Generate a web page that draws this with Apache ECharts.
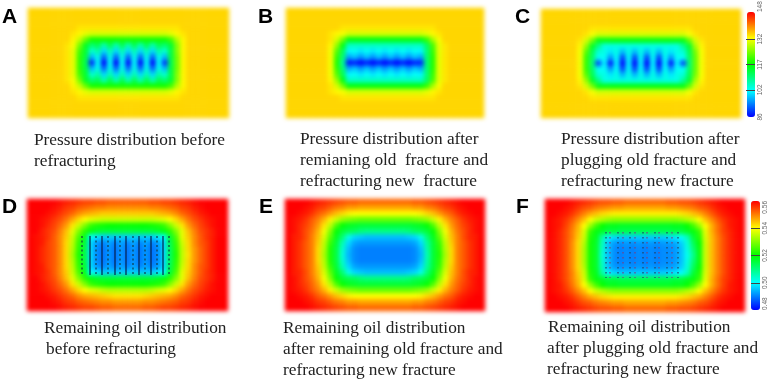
<!DOCTYPE html>
<html><head><meta charset="utf-8">
<style>
html,body{margin:0;padding:0;background:#fff;width:768px;height:382px;overflow:hidden}
#heat,#front{position:absolute;left:0;top:0;width:768px;height:382px}
#heat{filter:blur(2px)}
</style>
<script src="https://cdn.jsdelivr.net/npm/echarts@6/dist/echarts.min.js"></script>
</head><body>
<div id="heat"></div><div id="front"></div>
<script>
// Pressure fields (rows top to bottom, 33 columns)
const pressureA = [
[135,135,135,135,135,135,135,135,135,135,135,135,135,135,135,135,135,135,135,135,135,135,135,135,135,135,135,135,135,135,135,135,135],
[135,135,135,135,135,135,135,135,135,135,135,135,135,135,135,135,135,135,135,135,135,135,135,135,135,135,135,135,135,135,135,135,135],
[135,135,135,135,135,135,135,135,135,135,135,135,135,135,135,135,135,135,135,135,135,135,135,135,135,135,135,135,135,135,135,135,135],
[135,135,135,135,135,135,135,135,134,134,134,134,134,134,134,134,134,134,134,134,134,134,134,134,134,135,135,135,135,135,135,135,135],
[135,135,135,135,135,135,135,134,133,131,130,130,130,130,130,130,130,130,130,130,130,130,130,131,133,134,135,135,135,135,135,135,135],
[135,135,135,135,135,135,135,133,129,123,118,118,118,118,118,118,118,118,118,118,118,118,118,121,128,133,135,135,135,135,135,135,135],
[135,135,135,135,135,135,134,132,124,115,110,112,106,112,106,112,106,112,106,112,106,112,110,114,125,133,135,135,135,135,135,135,135],
[135,135,135,135,135,135,134,131,121,114,104,107,99,106,99,106,99,106,99,106,99,107,104,113,125,133,135,135,135,135,135,135,135],
[135,135,135,135,135,135,134,131,120,113,97,103,92,103,92,103,92,103,92,103,92,103,97,113,124,133,135,135,135,135,135,135,135],
[135,135,135,135,135,135,134,131,120,112,88,102,84,102,84,102,84,102,84,102,84,102,89,112,124,133,135,135,135,135,135,135,135],
[135,135,135,135,135,135,134,131,120,113,97,103,92,103,92,103,92,103,92,103,92,103,97,113,124,133,135,135,135,135,135,135,135],
[135,135,135,135,135,135,134,131,121,114,104,107,99,106,99,106,99,106,99,106,99,107,104,113,125,133,135,135,135,135,135,135,135],
[135,135,135,135,135,135,134,132,124,115,110,112,106,112,106,112,106,112,106,112,106,112,110,114,125,133,135,135,135,135,135,135,135],
[135,135,135,135,135,135,135,133,129,123,118,118,118,118,118,118,118,118,118,118,118,118,118,121,128,133,135,135,135,135,135,135,135],
[135,135,135,135,135,135,135,134,133,131,130,130,130,130,130,130,130,130,130,130,130,130,130,131,133,134,135,135,135,135,135,135,135],
[135,135,135,135,135,135,135,135,134,134,134,134,134,134,134,134,134,134,134,134,134,134,134,134,134,135,135,135,135,135,135,135,135],
[135,135,135,135,135,135,135,135,135,135,135,135,135,135,135,135,135,135,135,135,135,135,135,135,135,135,135,135,135,135,135,135,135],
[135,135,135,135,135,135,135,135,135,135,135,135,135,135,135,135,135,135,135,135,135,135,135,135,135,135,135,135,135,135,135,135,135],
[135,135,135,135,135,135,135,135,135,135,135,135,135,135,135,135,135,135,135,135,135,135,135,135,135,135,135,135,135,135,135,135,135]
];
const pressureB = [
[135,135,135,135,135,135,135,135,135,135,135,135,135,135,135,135,135,135,135,135,135,135,135,135,135,135,135,135,135,135,135,135,135],
[135,135,135,135,135,135,135,135,135,135,135,135,135,135,135,135,135,135,135,135,135,135,135,135,135,135,135,135,135,135,135,135,135],
[135,135,135,135,135,135,135,135,135,135,135,135,135,135,135,135,135,135,135,135,135,135,135,135,135,135,135,135,135,135,135,135,135],
[135,135,135,135,135,135,135,135,135,134,134,134,134,134,134,134,134,134,134,134,134,134,134,134,134,135,135,135,135,135,135,135,135],
[135,135,135,135,135,135,135,134,133,132,130,130,130,130,130,130,130,130,130,130,130,130,130,131,133,134,135,135,135,135,135,135,135],
[135,135,135,135,135,135,135,134,130,124,116,116,116,116,116,116,116,116,116,116,116,116,116,120,127,132,135,135,135,135,135,135,135],
[135,135,135,135,135,135,135,133,126,116,105,105,105,105,105,105,105,105,105,105,105,105,105,111,121,131,134,135,135,135,135,135,135],
[135,135,135,135,135,135,135,132,122,112,101,102,100,102,100,102,100,102,100,102,100,102,101,110,120,131,134,135,135,135,135,135,135],
[135,135,135,135,135,135,135,132,120,110,96,98,95,98,95,98,95,98,95,98,95,98,96,110,119,131,134,135,135,135,135,135,135],
[135,135,135,135,135,135,135,132,119,108,87,88,85,88,85,88,85,88,85,88,85,88,88,110,119,131,134,135,135,135,135,135,135],
[135,135,135,135,135,135,135,132,120,110,96,98,95,98,95,98,95,98,95,98,95,98,96,110,119,131,134,135,135,135,135,135,135],
[135,135,135,135,135,135,135,132,122,112,101,102,100,102,100,102,100,102,100,102,100,102,101,110,120,131,134,135,135,135,135,135,135],
[135,135,135,135,135,135,135,133,126,116,105,105,105,105,105,105,105,105,105,105,105,105,105,111,121,131,134,135,135,135,135,135,135],
[135,135,135,135,135,135,135,134,130,124,116,116,116,116,116,116,116,116,116,116,116,116,116,120,127,132,135,135,135,135,135,135,135],
[135,135,135,135,135,135,135,134,133,132,130,130,130,130,130,130,130,130,130,130,130,130,130,131,133,134,135,135,135,135,135,135,135],
[135,135,135,135,135,135,135,135,135,134,134,134,134,134,134,134,134,134,134,134,134,134,134,134,134,135,135,135,135,135,135,135,135],
[135,135,135,135,135,135,135,135,135,135,135,135,135,135,135,135,135,135,135,135,135,135,135,135,135,135,135,135,135,135,135,135,135],
[135,135,135,135,135,135,135,135,135,135,135,135,135,135,135,135,135,135,135,135,135,135,135,135,135,135,135,135,135,135,135,135,135],
[135,135,135,135,135,135,135,135,135,135,135,135,135,135,135,135,135,135,135,135,135,135,135,135,135,135,135,135,135,135,135,135,135]
];
const pressureC = [
[135,135,135,135,135,135,135,135,135,135,135,135,135,135,135,135,135,135,135,135,135,135,135,135,135,135,135,135,135,135,135,135,135],
[135,135,135,135,135,135,135,135,135,135,135,135,135,135,135,135,135,135,135,135,135,135,135,135,135,135,135,135,135,135,135,135,135],
[135,135,135,135,135,135,135,135,135,135,135,135,135,135,135,135,135,135,135,135,135,135,135,135,135,135,135,135,135,135,135,135,135],
[135,135,135,135,135,135,135,135,134,134,134,134,134,134,134,134,134,134,134,134,134,134,134,134,134,135,135,135,135,135,135,135,135],
[135,135,135,135,135,135,135,134,132,130,130,130,130,130,130,130,130,130,130,130,130,130,130,130,132,134,135,135,135,135,135,135,135],
[135,135,135,135,135,135,134,130,124,116,116,116,116,116,116,116,116,116,116,116,116,116,116,116,123,130,134,135,135,135,135,135,135],
[135,135,135,135,135,135,133,126,115,109,103,103,103,103,103,103,103,103,103,103,103,103,103,108,114,127,133,135,135,135,135,135,135],
[135,135,135,135,135,135,132,122,112,104,103,100,103,97,103,97,103,97,103,97,103,100,103,104,112,124,132,135,135,135,135,135,135],
[135,135,135,135,135,135,132,120,111,102,102,95,102,90,102,90,102,90,102,90,102,95,102,102,111,123,132,135,135,135,135,135,135],
[135,135,135,135,135,135,132,120,110,90,101,87,101,83,101,83,101,83,101,83,101,87,101,90,110,123,132,135,135,135,135,135,135],
[135,135,135,135,135,135,132,120,111,102,102,95,102,90,102,90,102,90,102,90,102,95,102,102,111,123,132,135,135,135,135,135,135],
[135,135,135,135,135,135,132,122,112,104,103,100,103,97,103,97,103,97,103,97,103,100,103,104,112,124,132,135,135,135,135,135,135],
[135,135,135,135,135,135,133,126,115,109,103,103,103,103,103,103,103,103,103,103,103,103,103,108,114,127,133,135,135,135,135,135,135],
[135,135,135,135,135,135,134,130,124,116,116,116,116,116,116,116,116,116,116,116,116,116,116,116,123,130,134,135,135,135,135,135,135],
[135,135,135,135,135,135,135,134,132,130,130,130,130,130,130,130,130,130,130,130,130,130,130,130,132,134,135,135,135,135,135,135,135],
[135,135,135,135,135,135,135,135,134,134,134,134,134,134,134,134,134,134,134,134,134,134,134,134,134,135,135,135,135,135,135,135,135],
[135,135,135,135,135,135,135,135,135,135,135,135,135,135,135,135,135,135,135,135,135,135,135,135,135,135,135,135,135,135,135,135,135],
[135,135,135,135,135,135,135,135,135,135,135,135,135,135,135,135,135,135,135,135,135,135,135,135,135,135,135,135,135,135,135,135,135],
[135,135,135,135,135,135,135,135,135,135,135,135,135,135,135,135,135,135,135,135,135,135,135,135,135,135,135,135,135,135,135,135,135]
];
// Remaining oil fields, in thousandths of saturation
const oilD = [
[560,560,560,560,560,559,558,557,556,555,555,554,554,553,553,553,553,553,553,553,554,554,555,555,556,557,558,559,560,560,560,560,560],
[560,560,560,560,559,558,556,555,553,552,551,550,550,549,549,549,549,549,549,549,550,550,551,552,553,555,556,558,559,560,560,560,560],
[560,560,560,559,558,556,554,552,549,547,546,545,544,544,544,544,544,544,544,544,544,545,546,547,549,552,554,556,558,559,560,560,560],
[560,560,559,558,556,554,551,547,543,540,538,537,536,536,536,536,536,536,536,536,536,537,538,540,543,547,551,554,556,558,559,560,560],
[560,560,559,557,555,552,548,542,536,530,524,522,521,520,520,520,520,520,520,520,521,522,524,530,536,542,548,552,555,557,559,560,560],
[560,560,558,556,554,550,545,538,530,523,519,517,516,516,516,516,516,516,516,516,516,517,519,523,530,538,545,550,554,556,558,560,560],
[560,559,558,556,553,549,544,536,526,518,500,498,496,496,496,496,496,496,496,496,496,498,500,516,526,538,544,549,553,556,558,560,560],
[560,559,558,555,553,549,543,535,524,516,497,492,490,493,490,493,490,493,490,493,490,492,497,514,524,536,543,549,553,555,558,560,560],
[560,559,557,555,553,549,543,534,523,515,497,491,489,492,489,492,489,492,489,492,489,491,497,513,523,535,543,548,552,555,558,560,560],
[560,559,557,555,553,549,543,533,522,515,497,491,489,492,489,492,489,492,489,492,489,491,497,513,522,535,542,548,552,555,558,560,560],
[560,559,557,555,553,549,543,534,523,515,497,491,489,492,489,492,489,492,489,492,489,491,497,513,523,535,543,548,552,555,558,560,560],
[560,559,558,555,553,549,543,535,524,516,497,492,490,493,490,493,490,493,490,493,490,492,497,514,524,536,543,549,553,555,558,560,560],
[560,559,558,556,553,549,544,536,526,518,500,498,496,496,496,496,496,496,496,496,496,498,500,516,526,538,544,549,553,556,558,560,560],
[560,560,558,556,554,550,545,538,530,523,519,517,516,516,516,516,516,516,516,516,516,517,519,523,530,538,545,550,554,556,558,560,560],
[560,560,559,557,555,552,548,542,536,530,524,522,521,520,520,520,520,520,520,520,521,522,524,530,536,542,548,552,555,557,559,560,560],
[560,560,559,558,556,554,551,547,543,540,538,537,535,534,534,534,534,534,534,534,535,537,538,540,543,547,551,554,556,558,559,560,560],
[560,560,560,559,558,556,554,552,549,547,546,545,544,543,542,542,542,542,542,543,544,545,546,547,549,552,554,556,558,559,560,560,560],
[560,560,560,560,559,558,556,555,553,552,551,550,549,549,548,548,548,548,548,549,549,550,551,552,553,555,556,558,559,560,560,560,560],
[560,560,560,560,560,559,558,557,556,555,555,554,553,553,552,552,552,552,552,553,553,554,555,555,556,557,558,559,560,560,560,560,560]
];
const oilE = [
[560,560,560,560,559,558,557,556,555,554,553,553,552,552,552,552,552,552,552,552,552,553,553,554,555,556,557,558,559,560,560,560,560],
[560,560,560,559,558,556,555,553,551,550,548,548,547,547,547,547,547,547,547,547,547,548,548,550,551,553,555,556,558,559,560,560,560],
[560,560,559,558,556,553,551,548,545,543,541,540,540,540,540,540,540,540,540,540,540,540,541,543,545,548,551,553,556,558,559,560,560],
[560,559,558,556,553,550,546,541,536,532,530,529,528,528,528,528,528,528,528,528,528,529,530,532,536,541,546,550,553,556,558,559,560],
[560,559,557,555,552,548,542,535,526,520,518,517,516,516,516,516,516,516,516,516,516,517,518,520,526,535,542,548,552,555,557,559,560],
[560,559,557,554,551,546,539,530,520,516,514,513,511,510,510,510,510,510,510,510,511,513,514,516,520,530,539,546,551,554,557,559,560],
[560,558,557,554,550,545,537,527,518,511,502,497,496,495,495,495,495,495,495,495,496,497,502,511,518,527,537,545,550,554,557,558,560],
[560,558,556,553,550,544,535,524,516,506,497,493,492,492,492,492,492,492,492,492,492,493,497,508,516,524,535,544,550,553,556,558,560],
[560,558,556,553,550,543,534,522,515,504,495,491,490,490,490,490,490,490,490,490,490,491,495,507,516,523,534,543,550,553,556,558,560],
[560,558,556,553,550,543,533,522,515,503,494,491,490,490,490,490,490,490,490,490,490,491,494,506,516,522,533,543,550,553,556,558,560],
[560,558,556,553,550,543,534,522,515,504,495,491,490,490,490,490,490,490,490,490,490,491,495,507,516,523,534,543,550,553,556,558,560],
[560,558,556,553,550,544,535,524,516,506,497,493,492,492,492,492,492,492,492,492,492,493,497,508,516,524,535,544,550,553,556,558,560],
[560,558,557,554,550,545,537,527,518,511,502,497,496,495,495,495,495,495,495,495,496,497,502,511,518,527,537,545,550,554,557,558,560],
[560,559,557,554,551,546,539,530,520,516,514,513,511,510,510,510,510,510,510,510,511,513,514,516,520,530,539,546,551,554,557,559,560],
[560,559,557,555,552,548,542,535,526,520,518,517,516,516,516,516,516,516,516,516,516,517,518,520,526,535,542,548,552,555,557,559,560],
[560,559,558,556,553,550,546,541,536,532,530,529,528,528,528,528,528,528,528,528,528,529,530,532,536,541,546,550,553,556,558,559,560],
[560,560,559,558,556,553,551,548,545,543,541,540,540,540,540,540,540,540,540,540,540,540,541,543,545,548,551,553,556,558,559,560,560],
[560,560,560,559,558,556,555,553,551,550,548,548,547,547,547,547,547,547,547,547,547,548,548,550,551,553,555,556,558,559,560,560,560],
[560,560,560,560,559,558,557,556,555,554,553,553,552,552,552,552,552,552,552,552,552,553,553,554,555,556,557,558,559,560,560,560,560]
];
const oilF = [
[560,560,560,560,559,558,557,556,555,554,554,553,553,552,552,552,552,552,552,552,553,553,554,554,555,556,557,558,559,560,560,560,560],
[560,560,560,559,558,556,554,553,551,550,549,548,548,547,547,547,547,547,547,547,548,548,549,550,551,553,554,556,558,559,560,560,560],
[560,560,559,558,556,553,550,547,545,543,542,541,541,541,541,541,541,541,541,541,541,541,542,543,545,547,550,553,556,558,559,560,560],
[560,559,558,556,553,549,545,540,536,534,532,531,531,531,531,531,531,531,531,531,531,531,532,534,536,540,545,549,553,556,558,559,560],
[560,559,558,555,551,546,540,532,525,520,518,518,517,517,517,517,517,517,517,517,517,518,518,520,525,532,540,546,551,555,558,559,560],
[560,559,557,554,550,545,537,524,519,517,515,515,514,514,514,514,514,514,514,514,514,515,515,517,519,524,538,546,551,555,557,559,560],
[560,559,557,554,550,544,536,522,518,507,499,497,496,496,496,496,496,496,496,496,497,498,500,505,516,522,537,545,550,554,557,559,560],
[560,559,557,554,549,543,534,521,517,505,495,492,491,492,491,492,491,492,491,492,492,493,496,503,513,520,536,545,550,554,557,559,560],
[560,559,557,554,549,543,533,521,517,504,495,491,490,491,490,491,490,491,490,491,491,492,495,502,511,519,536,545,550,554,557,559,560],
[560,559,557,554,549,543,533,521,517,503,495,491,490,491,490,491,490,491,490,491,491,492,495,501,509,519,536,545,550,554,557,559,560],
[560,559,557,554,549,543,533,521,517,504,495,491,490,491,490,491,490,491,490,491,491,492,495,502,511,519,536,545,550,554,557,559,560],
[560,559,557,554,549,543,534,521,517,505,495,492,491,492,491,492,491,492,491,492,492,493,496,503,513,520,536,545,550,554,557,559,560],
[560,559,557,554,550,544,536,522,518,507,499,497,496,496,496,496,496,496,496,496,497,498,500,505,516,522,537,545,550,554,557,559,560],
[560,559,557,554,550,545,537,524,519,517,515,515,514,514,514,514,514,514,514,514,514,515,515,517,519,524,538,546,551,555,557,559,560],
[560,559,558,555,551,546,540,532,525,520,518,518,517,517,517,517,517,517,517,517,517,518,518,520,525,532,540,546,551,555,558,559,560],
[560,559,558,556,553,549,545,540,536,534,532,531,531,531,531,531,531,531,531,531,531,531,532,534,536,540,545,549,553,556,558,559,560],
[560,560,559,558,556,553,550,547,545,543,542,541,541,541,541,541,541,541,541,541,541,541,542,543,545,547,550,553,556,558,559,560,560],
[560,560,560,559,558,556,554,553,551,550,549,548,548,547,547,547,547,547,547,547,548,548,549,550,551,553,554,556,558,559,560,560,560],
[560,560,560,560,559,558,557,556,555,554,554,553,553,552,552,552,552,552,552,552,553,553,554,554,555,556,557,558,559,560,560,560,560]
];
// Fracture positions, in panel units
const fracSolidD = [63,75,88,99,112,124,136];
const fracDashD = [55,69,81,93,106,118,130,142];
const fracDepthD = [37,76];
const fracDarkF = [61,73,85,98,110,122,133];
const fracRedF = [65,78,90,102,114,127];
const fracDepthF = [33,79];
// Colour bar ticks
const pressureTicks = [86,102,117,132,148];
const oilTicks = [480,500,520,540,560];
const rainbow = ['#0000ff','#00ffff','#00ff00','#ffff00','#ff0000'];
const captions = [
 ['Pressure distribution before\nrefracturing',34,130],
 ['Pressure distribution after\nremianing old  fracture and\nrefracturing new  fracture',300,129],
 ['Pressure distribution after\nplugging old fracture and\nrefracturing new fracture',561,129],
 ['Remaining oil distribution',44,318],
 ['before refracturing',46,339],
 ['Remaining oil distribution\nafter remaining old fracture and\nrefracturing new fracture',283,318],
 ['Remaining oil distribution',548,317],
 ['after plugging old fracture and\nrefracturing new fracture',547,338]
];
const letters = [['A',2,7],['B',258,7],['C',515,7],['D',2,197],['E',259,197],['F',516,197]];

const panels = [
 {rows:pressureA,l:28,t:8,w:201,h:110,vm:0},
 {rows:pressureB,l:286,t:8,w:198,h:110,vm:0},
 {rows:pressureC,l:541,t:9,w:200,h:109,vm:0},
 {rows:oilD,l:27,t:199,w:201,h:112,vm:1},
 {rows:oilE,l:285,t:199,w:200,h:112,vm:1},
 {rows:oilF,l:545,t:199,w:200,h:113,vm:1}
];
const idx = n => Array.from({length:n},(_,i)=>i);
const heat = echarts.init(document.getElementById('heat'),null,{renderer:'canvas'});
heat.setOption({
 animation:false,
 grid:panels.map(p=>({left:p.l,top:p.t,width:p.w,height:p.h,outerBoundsMode:'none'})),
 xAxis:panels.map((p,i)=>({type:'category',gridIndex:i,show:false,data:idx(33)})),
 yAxis:panels.map((p,i)=>({type:'category',gridIndex:i,show:false,inverse:true,data:idx(19)})),
 visualMap:[
  {show:false,type:'continuous',min:86,max:148,seriesIndex:[0,1,2],inRange:{color:rainbow}},
  {show:false,type:'continuous',min:480,max:560,seriesIndex:[3,4,5],inRange:{color:rainbow}}
 ],
 series:panels.map((p,i)=>({type:'heatmap',xAxisIndex:i,yAxisIndex:i,progressive:0,silent:true,
   data:p.rows.flatMap((r,y)=>r.map((v,x)=>[x,y,v]))}))
});

const lines = (xs,d)=>xs.flatMap(x=>[[x,d[0]],[x,d[1]],[null,null]]);
const front = echarts.init(document.getElementById('front'),null,{renderer:'canvas'});
const barAxis = (i,min,max,ticks,fmt,minAlign,maxAlign)=>({type:'value',gridIndex:i,min,max,position:'right',z:10,
  splitLine:{show:false},axisLine:{show:false,onZero:false},
  axisTick:{show:true,inside:true,length:9,lineStyle:{color:'#444',width:1},customValues:ticks.slice(1,-1)},
  axisLabel:{show:true,rotate:90,color:'#666',fontSize:6.5,fontFamily:'Liberation Sans',margin:2,customValues:ticks,formatter:fmt,alignMinLabel:minAlign,alignMaxLabel:maxAlign}});
front.setOption({
 animation:false,
 title:captions.map(c=>({text:c[0],left:c[1],top:c[2],padding:0,
   textStyle:{fontFamily:'Liberation Serif',fontWeight:'normal',fontSize:17.3,lineHeight:21,color:'#222'}}))
  .concat(letters.map(c=>({text:c[0],left:c[1],top:c[2],padding:0,
   textStyle:{fontFamily:'Liberation Sans',fontWeight:'bold',fontSize:21,color:'#000'}}))),
 visualMap:[
  {type:'continuous',min:86,max:148,seriesIndex:[],left:747,top:12,padding:0,itemWidth:8,itemHeight:105,calculable:false,showLabel:false,text:null,hoverLink:false,z:2,inRange:{color:rainbow}},
  {type:'continuous',min:480,max:560,seriesIndex:[],left:751,top:201,padding:0,itemWidth:9,itemHeight:109,calculable:false,showLabel:false,text:null,hoverLink:false,z:2,inRange:{color:rainbow}}
 ],
 grid:[
  {left:27,top:199,width:201,height:112,outerBoundsMode:'none'},
  {left:545,top:199,width:200,height:113,outerBoundsMode:'none'},
  {left:747,top:12,width:8,height:105,outerBoundsMode:'none'},
  {left:751,top:201,width:9,height:109,outerBoundsMode:'none'}
 ],
 xAxis:[
  {type:'value',gridIndex:0,min:0,max:201,show:false},
  {type:'value',gridIndex:1,min:0,max:200,show:false},
  {type:'value',gridIndex:2,min:0,max:1,show:false},
  {type:'value',gridIndex:3,min:0,max:1,show:false}
 ],
 yAxis:[
  {type:'value',gridIndex:0,min:0,max:112,inverse:true,show:false},
  {type:'value',gridIndex:1,min:0,max:113,inverse:true,show:false},
  barAxis(2,86,148,pressureTicks,v=>String(v),'center','left'),
  barAxis(3,480,560,oilTicks,v=>(v/1000).toFixed(2),'left','right')
 ],
 series:[
  {type:'line',xAxisIndex:0,yAxisIndex:0,showSymbol:false,silent:true,data:lines(fracSolidD,fracDepthD),lineStyle:{color:'#06204a',width:1.2}},
  {type:'line',xAxisIndex:0,yAxisIndex:0,showSymbol:false,silent:true,data:lines(fracDashD,fracDepthD),lineStyle:{color:'#123a4a',width:1.2,type:[2,2.5]}},
  {type:'line',xAxisIndex:1,yAxisIndex:1,showSymbol:false,silent:true,data:lines(fracDarkF,fracDepthF),lineStyle:{color:'#234060',width:1.2,type:[1.5,3.5]}},
  {type:'line',xAxisIndex:1,yAxisIndex:1,showSymbol:false,silent:true,data:lines(fracRedF,fracDepthF),lineStyle:{color:'#7a4080',width:1.2,type:[1.5,3.5]}}
 ]
});
</script>
</body></html>
